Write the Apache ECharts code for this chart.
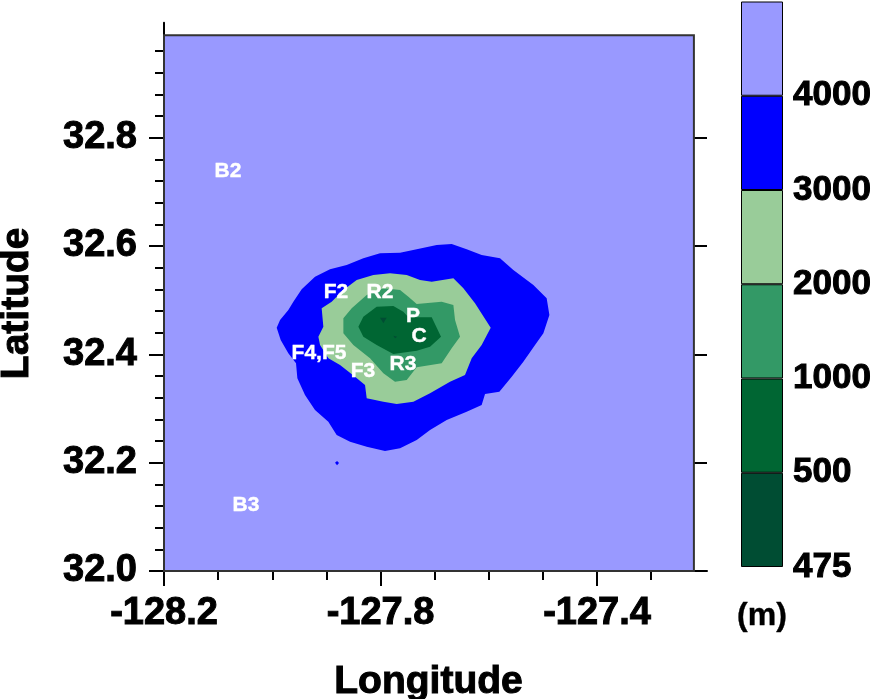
<!DOCTYPE html>
<html><head><meta charset="utf-8">
<style>html,body{margin:0;padding:0;background:#fff}#c{width:873px;height:699px}</style>
<script src="https://cdn.jsdelivr.net/npm/echarts@6/dist/echarts.min.js"></script>
</head><body><div id="c"></div>
<script>
const xMajorTicks=[-128.2,-127.8,-127.4];
const xMinorTicks=[-128.1,-128.0,-127.9,-127.7,-127.6,-127.5,-127.3];
const yMajorTicks=[32.0,32.2,32.4,32.6,32.8];
const yMinorTicks=[32.04,32.08,32.12,32.16,32.24,32.28,32.32,32.36,32.44,32.48,32.52,32.56,32.64,32.68,32.72,32.76,32.84,32.88,32.92,32.96];
const xAxisEnd=-127.1968, yAxisEnd=33.0122;
const colorLevels=['475','500','1000','2000','3000','4000'];
const bandColors=['#004D33','#006633','#339966','#99CC99','#0000FF','#9999FF'];
const domain=[[-128.2,32],[-127.221,32],[-127.221,32.989],[-128.2,32.989]];
const band3000=[[-127.9918,32.4492],[-127.9856,32.4633],[-127.9703,32.4818],[-127.961,32.4972],[-127.9456,32.52],[-127.921,32.5433],[-127.8933,32.5569],[-127.8625,32.5649],[-127.8317,32.5772],[-127.8009,32.5864],[-127.7639,32.5877],[-127.7331,32.5938],[-127.6962,32.6018],[-127.6685,32.6037],[-127.6408,32.5938],[-127.6131,32.5833],[-127.5792,32.5772],[-127.5546,32.5557],[-127.5176,32.528],[-127.493,32.5033],[-127.488,32.4726],[-127.4991,32.4387],[-127.5145,32.4172],[-127.5361,32.3864],[-127.5576,32.3587],[-127.5804,32.331],[-127.6069,32.3267],[-127.6131,32.3064],[-127.6408,32.2941],[-127.6777,32.2787],[-127.7085,32.2603],[-127.7331,32.2418],[-127.7639,32.2264],[-127.7917,32.2215],[-127.8255,32.2295],[-127.8563,32.2387],[-127.881,32.251],[-127.8964,32.2757],[-127.921,32.2972],[-127.9395,32.3249],[-127.9536,32.3557],[-127.9561,32.3833],[-127.9703,32.4018],[-127.9844,32.4264]];
const band3000Dot=[[-127.884,32.2],[-127.8803,32.203],[-127.8766,32.1993],[-127.8803,32.195]];
const band2000=[[-127.9087,32.4849],[-127.8902,32.4972],[-127.8686,32.5187],[-127.844,32.5372],[-127.8132,32.5464],[-127.7824,32.5495],[-127.7516,32.5464],[-127.727,32.5372],[-127.7054,32.5341],[-127.6654,32.5403],[-127.6469,32.5218],[-127.6254,32.4941],[-127.5964,32.4492],[-127.6131,32.4172],[-127.6315,32.3926],[-127.6439,32.3618],[-127.6716,32.3495],[-127.7085,32.328],[-127.7393,32.3126],[-127.7701,32.3083],[-127.7947,32.3126],[-127.8255,32.3187],[-127.8286,32.3433],[-127.8471,32.3587],[-127.8748,32.3803],[-127.8963,32.3926],[-127.9117,32.4172],[-127.9148,32.4326],[-127.9056,32.451]];
const band1000=[[-127.8686,32.4664],[-127.8532,32.4849],[-127.8255,32.5095],[-127.7947,32.5218],[-127.7639,32.5187],[-127.7485,32.5064],[-127.7331,32.4929],[-127.687,32.4972],[-127.6654,32.491],[-127.6623,32.4633],[-127.6531,32.4326],[-127.6685,32.411],[-127.687,32.3833],[-127.7331,32.376],[-127.7516,32.3526],[-127.7732,32.3495],[-127.7947,32.3649],[-127.8194,32.3926],[-127.8502,32.4172],[-127.8686,32.4387]];
const band500=[[-127.8409,32.451],[-127.8317,32.4695],[-127.8071,32.488],[-127.7763,32.4892],[-127.7578,32.4787],[-127.7485,32.4683],[-127.7054,32.4683],[-127.6882,32.4326],[-127.7085,32.4141],[-127.7331,32.4067],[-127.7763,32.4006],[-127.8071,32.4172],[-127.8317,32.4326]];
const band475A=[[-127.8009,32.4677],[-127.7886,32.4677],[-127.7947,32.4572]];
const band475B=[[-127.7763,32.4344],[-127.7689,32.4326],[-127.7732,32.4295]];
const stations=[['B2',-128.0818,32.7403],['B3',-128.0485,32.1237],['F2',-127.8822,32.5169],['R2',-127.8009,32.5169],['P',-127.74,32.4726],['C',-127.7289,32.4357],['F4,F5',-127.9136,32.4043],['F3',-127.8323,32.3711],['R3',-127.7584,32.384]];

const FF='"Liberation Sans",Arial,sans-serif';
const tickStyle={color:'#000',width:2};
const big={fontFamily:FF,fontWeight:'bold',color:'#000',textBorderColor:'#000',textBorderWidth:1};
function poly(name,pts,fill,z,stroke){
  return {type:'custom',name,xAxisIndex:0,yAxisIndex:0,coordinateSystem:'cartesian2d',z,silent:true,
    data:pts,encode:{x:0,y:1},
    renderItem(p,api){
      if(p.dataIndex!==0) return null;
      return {type:'polygon',shape:{points:pts.map(q=>api.coord(q))},
        style:stroke?{fill,stroke:'#333',lineWidth:2}:{fill}};
    }};
}
const chart=echarts.init(document.getElementById('c'),null,{renderer:'canvas'});
chart.setOption({
  animation:false,backgroundColor:'#fff',
  grid:[{left:164,right:166,top:22.7,bottom:128,containLabel:false,outerBoundsMode:'none'},
        {left:741,width:42,top:1.5,height:565.5,containLabel:false,outerBoundsMode:'none'}],
  xAxis:[
    {gridIndex:0,type:'value',min:-128.2,max:xAxisEnd,position:'bottom',splitLine:{show:false},
     axisLine:{onZero:false,lineStyle:tickStyle},
     axisTick:{customValues:xMajorTicks,length:15,lineStyle:tickStyle},
     axisLabel:{customValues:xMajorTicks,margin:24,fontSize:38,...big,formatter:v=>v.toFixed(1)},
     name:'Longitude',nameLocation:'middle',nameGap:92,
     nameTextStyle:{fontSize:39,...big,padding:[0,14,0,0]}},
    {gridIndex:0,type:'value',min:-128.2,max:xAxisEnd,position:'bottom',splitLine:{show:false},
     axisLine:{show:false,onZero:false},
     axisTick:{customValues:xMinorTicks,length:9,lineStyle:tickStyle},axisLabel:{show:false}},
    {gridIndex:1,type:'category',data:['c'],axisLine:{show:false},axisTick:{show:false},axisLabel:{show:false},
     name:'(m)',nameLocation:'middle',nameGap:33,nameTextStyle:{fontSize:32,...big,textBorderWidth:0.4}}
  ],
  yAxis:[
    {gridIndex:0,type:'value',min:32,max:yAxisEnd,position:'left',splitLine:{show:false},
     axisLine:{onZero:false,lineStyle:tickStyle},
     axisTick:{customValues:yMajorTicks,length:15,lineStyle:tickStyle},
     axisLabel:{customValues:yMajorTicks,margin:27,fontSize:38,...big,formatter:v=>v.toFixed(1)},
     name:'Latitude',nameLocation:'middle',nameGap:127,nameRotate:90,
     nameTextStyle:{fontSize:39,...big,padding:[0,13,0,0]}},
    {gridIndex:0,type:'value',min:32,max:yAxisEnd,position:'left',splitLine:{show:false},
     axisLine:{show:false,onZero:false},
     axisTick:{customValues:yMinorTicks,length:9,lineStyle:tickStyle},axisLabel:{show:false}},
    {gridIndex:0,type:'value',min:32,max:yAxisEnd,position:'right',offset:-13,splitLine:{show:false},
     axisLine:{show:false,onZero:false},
     axisTick:{customValues:yMajorTicks.slice(1),length:13,lineStyle:tickStyle},axisLabel:{show:false}},
    {gridIndex:1,type:'value',min:0,max:6,interval:1,position:'right',splitLine:{show:false},
     axisLine:{show:false,onZero:false},axisTick:{show:false},
     axisLabel:{margin:10,fontSize:35,...big,formatter:v=>colorLevels[v]||''}}
  ],
  series:[
    poly('4000+',domain,bandColors[5],1,true),
    poly('3000-4000',band3000,bandColors[4],2),
    poly('3000-4000 dot',band3000Dot,bandColors[4],2),
    poly('2000-3000',band2000,bandColors[3],3),
    poly('1000-2000',band1000,bandColors[2],4),
    poly('500-1000',band500,bandColors[1],5),
    poly('475-500 a',band475A,bandColors[0],6),
    poly('475-500 b',band475B,bandColors[0],6),
    {type:'scatter',xAxisIndex:0,yAxisIndex:0,symbolSize:0,z:10,silent:true,itemStyle:{opacity:1},
     data:stations.map(s=>({name:s[0],value:[s[1],s[2]]})),
     label:{show:true,position:'inside',offset:[0,1],formatter:'{b}',color:'#fff',fontFamily:FF,fontWeight:'bold',fontSize:21,textBorderColor:'#fff',textBorderWidth:0.4}},
    ...colorLevels.map((_,i)=>({type:'bar',name:'level'+i,xAxisIndex:2,yAxisIndex:3,stack:'cb',barWidth:'100%',silent:true,
      data:[1],itemStyle:{color:bandColors[i],borderColor:'#000',borderWidth:1}}))
  ]
});
</script></body></html>
